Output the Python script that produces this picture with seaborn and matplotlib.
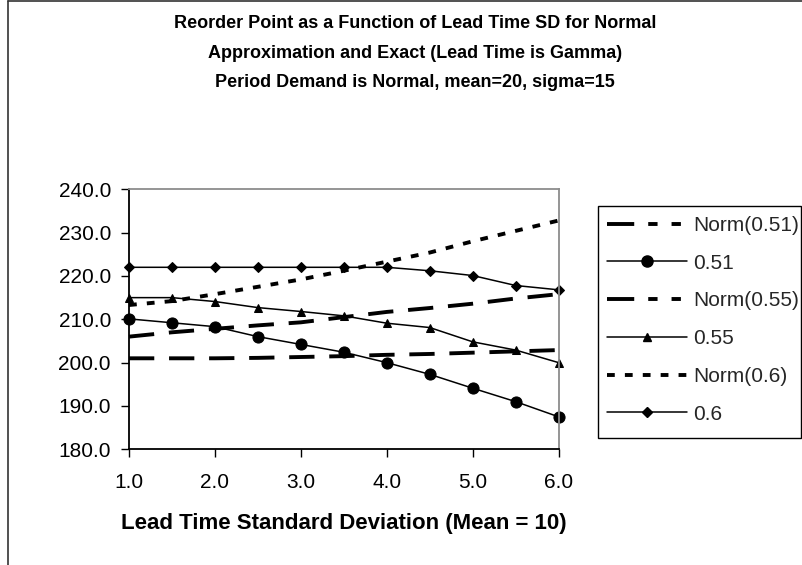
import matplotlib
matplotlib.use("Agg")
import matplotlib.pyplot as plt
import seaborn as sns
from matplotlib.lines import Line2D
from matplotlib.patches import Rectangle
from matplotlib.ticker import FormatStrFormatter

# ---- data ----
lead_sd = [1.0, 1.5, 2.0, 2.5, 3.0, 3.5, 4.0, 4.5, 5.0, 5.5, 6.0]
norm_051 = [201.0, 201.0, 201.0, 201.1, 201.3, 201.5, 201.8, 202.0, 202.3, 202.6, 202.9]
exact_051 = [210.1, 209.2, 208.3, 206.0, 204.2, 202.4, 200.0, 197.3, 194.1, 191.0, 187.5]
norm_055 = [206.0, 207.0, 207.8, 208.6, 209.3, 210.5, 211.7, 212.6, 213.6, 214.8, 215.8]
exact_055 = [215.0, 215.0, 214.1, 212.7, 211.8, 210.8, 209.1, 208.1, 204.8, 202.9, 200.0]
norm_06 = [213.3, 214.2, 215.8, 217.5, 219.2, 221.2, 223.3, 225.4, 228.0, 230.4, 232.8]
exact_06 = [222.0, 222.0, 222.0, 222.0, 222.0, 222.0, 222.0, 221.2, 220.1, 217.8, 216.8]
series_labels = ["Norm(0.51)", "0.51", "Norm(0.55)", "0.55", "Norm(0.6)", "0.6"]
y_ticks = [180, 190, 200, 210, 220, 230, 240]
x_ticks = [1, 2, 3, 4, 5, 6]
title_text = ("Reorder Point as a Function of Lead Time SD for Normal\n"
              "Approximation and Exact (Lead Time is Gamma)\n"
              "Period Demand is Normal, mean=20, sigma=15")
x_title = "Lead Time Standard Deviation (Mean = 10)"

sns.set_theme(style="white")
plt.rcParams["font.family"] = ["Liberation Sans", "DejaVu Sans"]

W, H = 803, 565
fig = plt.figure(figsize=(W / 100, H / 100), dpi=100)
fig.patch.set_facecolor("white")

ax_l, ax_r, ax_t, ax_b = 129, 558.6, 189.3, 449.3
ax = fig.add_axes([ax_l / W, 1 - ax_b / H, (ax_r - ax_l) / W, (ax_b - ax_t) / H])
ax.set_facecolor("white")

long_dash = (0, (6.5, 3.8))
short_dash = (0, (2.0, 2.6))
styles = [
    dict(ls=long_dash, lw=2.8, marker=None),
    dict(ls="-", lw=1.1, marker="o", ms=8),
    dict(ls=long_dash, lw=2.8, marker=None),
    dict(ls="-", lw=1.1, marker="^", ms=5.8),
    dict(ls=short_dash, lw=2.8, marker=None),
    dict(ls="-", lw=1.1, marker="D", ms=5),
]
data = [norm_051, exact_051, norm_055, exact_055, norm_06, exact_06]

for vals, lab, st in zip(data, series_labels, styles):
    kw = dict(color="black", linewidth=st["lw"], linestyle=st["ls"], label=lab)
    if st["marker"]:
        kw.update(marker=st["marker"], markersize=st["ms"],
                  markerfacecolor="black", markeredgecolor="black")
    sns.lineplot(x=lead_sd, y=vals, ax=ax, legend=False, **kw)
for ln in ax.lines:
    ln.set_clip_on(False)

ax.set_xlim(1.0, 6.0)
ax.set_ylim(180, 240)
ax.set_xticks(x_ticks)
ax.set_yticks(y_ticks)
ax.xaxis.set_major_formatter(FormatStrFormatter("%.1f"))
ax.yaxis.set_major_formatter(FormatStrFormatter("%.1f"))
ax.tick_params(axis="both", which="major", direction="out", length=6, width=1,
               color="black", labelsize=15, labelcolor="black")
ax.tick_params(axis="x", pad=11)
ax.tick_params(axis="y", pad=7)
ax.xaxis.set_ticks_position("bottom")
ax.yaxis.set_ticks_position("left")
for side in ["left", "bottom"]:
    ax.spines[side].set_color("black")
    ax.spines[side].set_linewidth(1.3)
for side in ["top", "right"]:
    ax.spines[side].set_color("#8c8c8c")
    ax.spines[side].set_linewidth(1.3)
ax.grid(False)
ax.set_xlabel("")
ax.set_ylabel("")

# x-axis title
fig.text((ax_l + ax_r) / 2 / W, 1 - 523 / H, x_title, ha="center", va="center",
         fontsize=16, fontweight="bold", color="black")

# chart title
fig.text(415 / W, 1 - 53 / H, title_text, ha="center", va="center",
         fontsize=13, fontweight="bold", color="black", linespacing=1.95)

# legend (handles styled like the reference legend samples)
lg_dash = (0, (7.0, 3.6, 2.4, 3.6, 2.4, 3.6))
handles = [
    Line2D([], [], color="black", lw=2.8, ls=lg_dash),
    Line2D([], [], color="black", lw=1.1, marker="o", ms=8),
    Line2D([], [], color="black", lw=2.8, ls=lg_dash),
    Line2D([], [], color="black", lw=1.1, marker="^", ms=5.8),
    Line2D([], [], color="black", lw=2.8, ls=short_dash),
    Line2D([], [], color="black", lw=1.1, marker="D", ms=5),
]
fs_px = 15 * 100 / 72
leg = fig.legend(handles, series_labels, loc="upper left",
                 bbox_to_anchor=(606.7 / W, 1 - 216.0 / H), borderaxespad=0,
                 borderpad=0, frameon=False, fontsize=15, handlelength=80 / fs_px,
                 handletextpad=6.3 / fs_px, labelspacing=0.9)
fig.add_artist(Rectangle((598 / W, 1 - 438.3 / H), (801 - 598) / W, (438.3 - 205.7) / H,
                         transform=fig.transFigure, facecolor="none",
                         edgecolor="black", lw=1.0, clip_on=False))

# chart area border (left and top visible)
fig.add_artist(Line2D([8.3 / W, 8.3 / W], [0, 1 - 1 / H], transform=fig.transFigure,
                      color="#333333", lw=1.2))
fig.add_artist(Line2D([8.3 / W, 1], [1 - 1 / H, 1 - 1 / H], transform=fig.transFigure,
                      color="#333333", lw=1.2))

fig.savefig("out.png", dpi=100)
